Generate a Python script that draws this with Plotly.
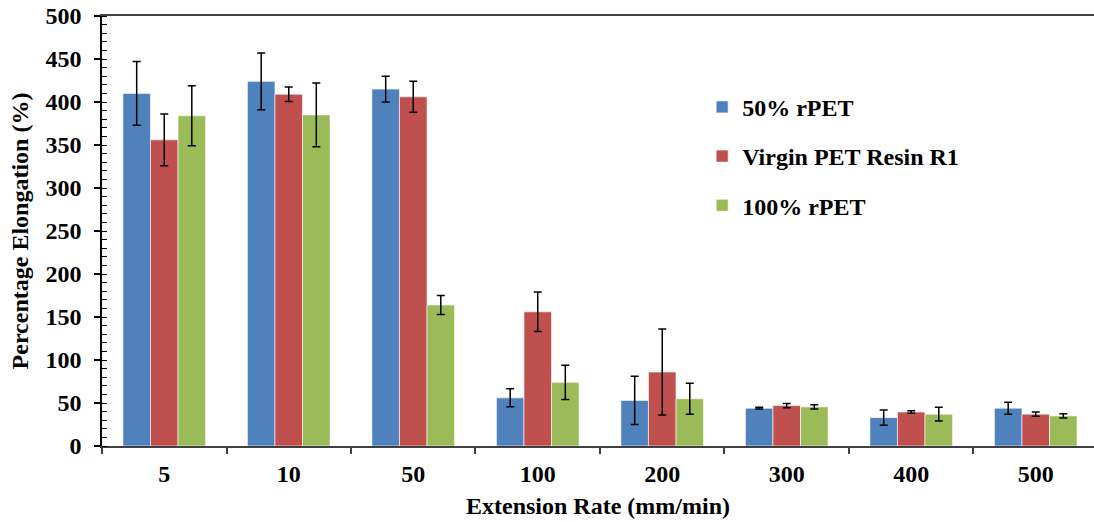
import plotly.graph_objects as go

categories = ["5", "10", "50", "100", "200", "300", "400", "500"]
series_names = ["50% rPET", "Virgin PET Resin R1", "100% rPET"]
rpet50 = [410, 424, 415, 56, 53, 44, 33, 44]
rpet50_err = [37, 33, 15, 10.5, 28, 1, 9, 7]
virgin = [356, 409, 406, 156, 86, 47, 39.5, 37]
virgin_err = [30, 8.5, 18, 23, 50, 2.5, 1.5, 2.5]
rpet100 = [384, 385, 164, 74, 55, 45.5, 37, 35]
rpet100_err = [35, 37, 11, 20, 18, 2.5, 8, 2.5]
colors = ["#4F81BD", "#C0504D", "#9BBB59"]

FONT = "Liberation Serif"
fig = go.Figure()
for i, (name, vals, errs) in enumerate(zip(series_names, [rpet50, virgin, rpet100],
                                           [rpet50_err, virgin_err, rpet100_err])):
    fig.add_trace(go.Bar(
        x=categories, y=vals, name="<b>" + name + "</b>", legendgroup=name,
        marker=dict(color=colors[i], line=dict(color="rgba(255,255,255,0.6)", width=1)),
        error_y=dict(type="data", array=errs, visible=True, color="black",
                     thickness=1.5, width=4),
    ))

fig.update_layout(
    width=1094, height=522,
    margin=dict(l=102, r=0, t=16, b=76),
    paper_bgcolor="white", plot_bgcolor="white",
    barmode="group", bargap=0.336, bargroupgap=0,
    font=dict(family=FONT, size=24, color="black"),
    showlegend=True,
    legend=dict(x=0.605, y=0.84, xanchor="left", yanchor="top",
                font=dict(family=FONT, size=24, color="black"),
                bgcolor="rgba(0,0,0,0)", tracegroupgap=15, itemwidth=30),
    xaxis=dict(
        type="category", range=[-0.5, 7.468],
        showline=True, linecolor="#404040", linewidth=1.5, mirror=True,
        ticks="outside", ticklen=6, tickcolor="#404040", tickwidth=1.5,
        tickson="boundaries", showgrid=False,
        tickfont=dict(family=FONT, size=24, color="black"),
        ticklabelstandoff=5,
        tickprefix="<b>", ticksuffix="</b>",
        title=dict(text="<b>Extension Rate (mm/min)</b>",
                   font=dict(family=FONT, size=24, color="black"), standoff=12),
    ),
    yaxis=dict(
        range=[0, 500], dtick=50, tick0=0,
        showline=True, linecolor="black", linewidth=1.5,
        ticks="outside", ticklen=6, tickcolor="black", tickwidth=1.5,
        minor=dict(dtick=10, ticks="inside", ticklen=5, tickcolor="black", tickwidth=1.2,
                   showgrid=False),
        showgrid=False, zeroline=False,
        tickfont=dict(family=FONT, size=24, color="black"),
        ticklabelstandoff=8,
        tickprefix="<b>", ticksuffix="</b>",
        title=dict(text="<b>Percentage Elongation (%)</b>",
                   font=dict(family=FONT, size=24, color="black"), standoff=10),
    ),
)

fig.write_html("out.html")
